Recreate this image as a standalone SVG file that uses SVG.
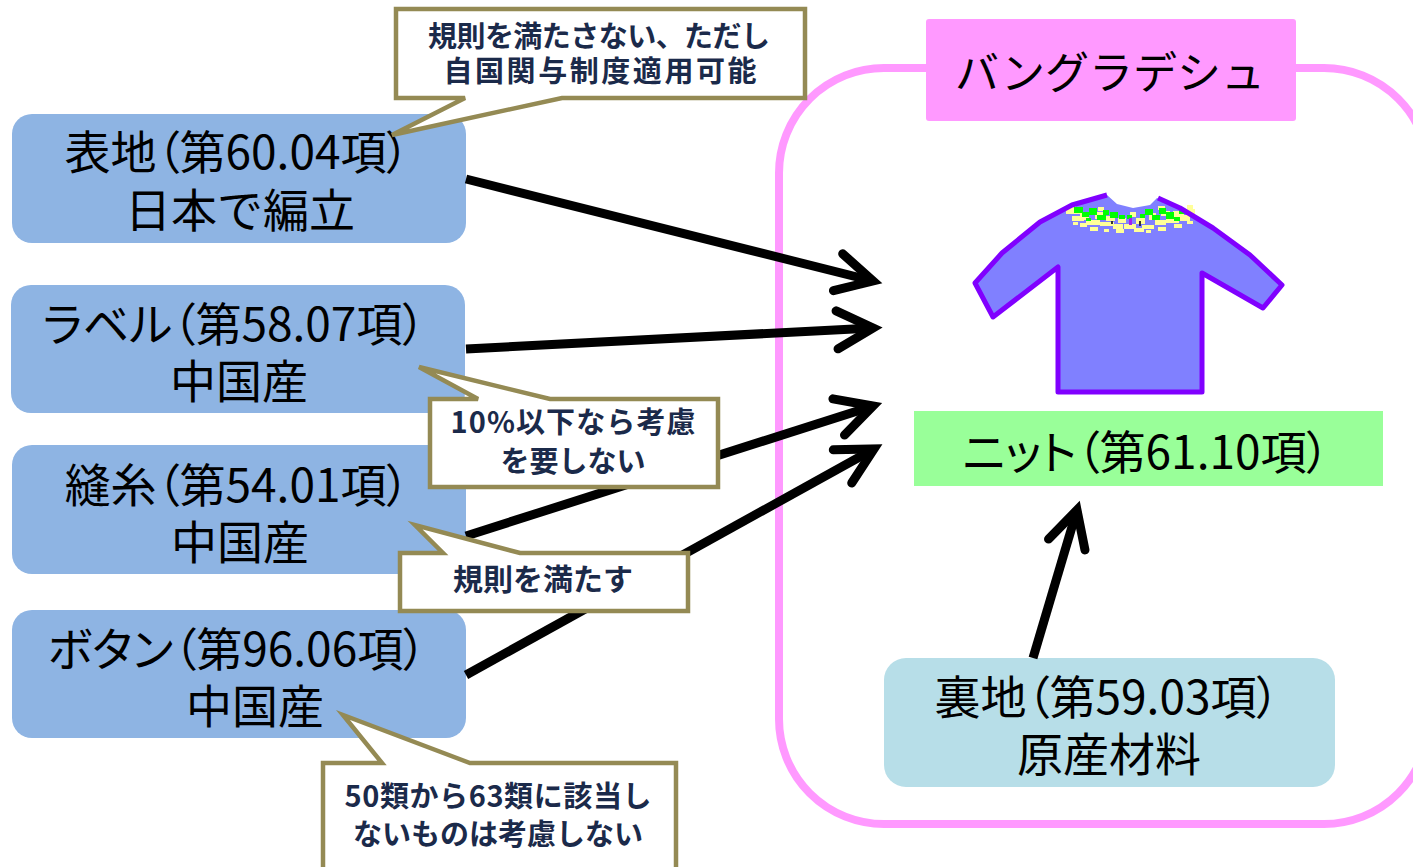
<svg xmlns="http://www.w3.org/2000/svg" width="1413" height="867" viewBox="0 0 1413 867">
  <defs>
    <style>
      .lbl { font-family: "Noto Sans CJK JP", "Noto Sans", sans-serif; font-size: 46px; fill: #000; }
      .mid { text-anchor: middle; }
      .p { font-feature-settings: "palt" 1; }
      .note { font-family: "Noto Sans CJK JP", "Noto Sans", sans-serif; font-size: 29px; font-weight: 700; fill: #1B2A4A; text-anchor: middle; }
      .src { fill: #8EB4E3; }
      .bubble { fill: #FFFFFF; stroke: #948A54; stroke-width: 4.5; stroke-linejoin: miter; }
      .flow { fill: none; stroke: #000; stroke-width: 9; marker-end: url(#chev); }
    </style>
    <marker id="chev" markerUnits="userSpaceOnUse" markerWidth="100" markerHeight="100" viewBox="-50 -50 100 100" refX="0" refY="0" orient="auto" overflow="visible">
      <path d="M-36,-19 L0,0 L-36,19" fill="none" stroke="#000" stroke-width="9" stroke-linecap="round" stroke-linejoin="miter"/>
    </marker>
  </defs>

  <rect width="1413" height="867" fill="#FFFFFF"/>

  <!-- country frame -->
  <g id="bangladesh">
    <rect x="779" y="68" width="650" height="756" rx="105" ry="105" fill="none" stroke="#FF99FF" stroke-width="8"/>
    <rect x="926" y="19" width="370" height="102" rx="3" fill="#FF99FF"/>
    <text class="lbl mid" x="1110" y="89" style="font-size:44px">バングラデシュ</text>
  </g>

  <!-- source materials -->
  <g id="node-outer-fabric">
    <rect class="src" x="12" y="114" width="454" height="129" rx="20"/>
    <text class="lbl mid p" x="237" y="169">表地（第60.04項）</text>
    <text class="lbl mid" x="240" y="227">日本で編立</text>
  </g>
  <g id="node-label">
    <rect class="src" x="11" y="285" width="454" height="128" rx="20"/>
    <text class="lbl mid p" x="234" y="341">ラベル（第58.07項）</text>
    <text class="lbl mid" x="239" y="398">中国産</text>
  </g>
  <g id="node-thread">
    <rect class="src" x="12" y="445" width="454" height="129" rx="20"/>
    <text class="lbl mid p" x="237" y="502">縫糸（第54.01項）</text>
    <text class="lbl mid" x="240" y="559">中国産</text>
  </g>
  <g id="node-button">
    <rect class="src" x="12" y="610" width="454" height="128" rx="20"/>
    <text class="lbl mid p" x="237" y="666">ボタン（第96.06項）</text>
    <text class="lbl mid" x="255" y="723">中国産</text>
  </g>

  <!-- knitted garment -->
  <g id="shirt">
    <polygon points="1107,195 1072,205 1040,222 1002,253 975,283 993,317 1058,267 1058,392 1202,392 1202,273 1263,308 1282,285 1250,255 1213,228 1180,208 1157,198 1150,205 1133,208 1117,204" fill="#8080FF"/>
    <g fill="#FFFF99">
      <rect x="1066" y="208" width="14" height="6"/><rect x="1072" y="216" width="12" height="5"/>
      <rect x="1080" y="212" width="9" height="8"/><rect x="1086" y="220" width="14" height="5"/>
      <rect x="1095" y="212" width="8" height="7"/><rect x="1100" y="222" width="14" height="4"/>
      <rect x="1106" y="216" width="9" height="5"/><rect x="1113" y="224" width="10" height="5"/>
      <rect x="1118" y="218" width="8" height="5"/><rect x="1124" y="224" width="12" height="5"/>
      <rect x="1130" y="212" width="6" height="5"/><rect x="1136" y="218" width="9" height="6"/>
      <rect x="1142" y="225" width="12" height="4"/><rect x="1149" y="213" width="7" height="7"/>
      <rect x="1155" y="220" width="11" height="5"/><rect x="1161" y="211" width="9" height="5"/>
      <rect x="1166" y="217" width="13" height="6"/><rect x="1173" y="211" width="11" height="6"/>
      <rect x="1180" y="215" width="10" height="6"/><rect x="1186" y="209" width="9" height="5"/>
      <rect x="1090" y="227" width="8" height="4"/><rect x="1116" y="229" width="8" height="4"/>
      <rect x="1134" y="228" width="10" height="4"/><rect x="1158" y="227" width="8" height="4"/>
      <rect x="1174" y="224" width="8" height="4"/><rect x="1098" y="207" width="6" height="4"/>
      <rect x="1158" y="206" width="7" height="4"/><rect x="1068" y="204" width="8" height="4"/>
      <rect x="1187" y="205" width="6" height="4"/><rect x="1080" y="223" width="7" height="4"/>
      <rect x="1104" y="229" width="5" height="3"/><rect x="1146" y="230" width="5" height="3"/>
      <rect x="1187" y="221" width="6" height="3"/><rect x="1073" y="222" width="5" height="3"/>
    </g>
    <g fill="#00FF00">
      <rect x="1074" y="207" width="9" height="6"/><rect x="1082" y="212" width="7" height="5"/>
      <rect x="1089" y="208" width="8" height="7"/><rect x="1097" y="215" width="9" height="5"/>
      <rect x="1103" y="210" width="6" height="5"/><rect x="1110" y="212" width="8" height="6"/>
      <rect x="1119" y="215" width="6" height="4"/><rect x="1145" y="209" width="8" height="6"/>
      <rect x="1152" y="215" width="8" height="5"/><rect x="1159" y="208" width="7" height="6"/>
      <rect x="1166" y="212" width="8" height="7"/><rect x="1174" y="217" width="6" height="4"/>
      <rect x="1179" y="209" width="6" height="5"/><rect x="1127" y="215" width="5" height="4"/>
      <rect x="1086" y="218" width="5" height="3"/><rect x="1140" y="214" width="5" height="4"/>
    </g>
    <rect x="1129" y="218" width="3" height="7" fill="#A020F0"/>
    <rect x="1111" y="221" width="2" height="3" fill="#333"/>
    <rect x="1139" y="221" width="2" height="5" fill="#333"/>
    <polyline points="1107,195 1072,205 1040,222 1002,253 975,283 993,317 1058,267 1058,392 1202,392 1202,273 1263,308 1282,285 1250,255 1213,228 1180,208 1158,198" fill="none" stroke="#8000FF" stroke-width="5" stroke-linejoin="round"/>
  </g>

  <g id="node-knit">
    <rect x="914" y="411" width="469" height="75" fill="#99FF99"/>
    <text class="lbl mid p" x="1146" y="469">ニット（第61.10項）</text>
  </g>

  <g id="node-lining">
    <rect x="884" y="658" width="451" height="129" rx="22" fill="#B7DEE8"/>
    <text class="lbl mid p" x="1107" y="714">裏地（第59.03項）</text>
    <text class="lbl mid" x="1109" y="771">原産材料</text>
  </g>

  <!-- flows into the garment -->
  <g id="connectors">
    <line class="flow" x1="466" y1="179" x2="873" y2="281"/>
    <line class="flow" x1="466" y1="349" x2="873" y2="328"/>
    <line class="flow" x1="466" y1="536" x2="873" y2="406"/>
    <line class="flow" x1="466" y1="675" x2="874" y2="449"/>
    <line class="flow" x1="1033" y1="658" x2="1077" y2="510"/>
  </g>

  <!-- rule notes -->
  <g id="note-outer-fabric">
    <path class="bubble" d="M396,9 H805 V98 H562 L392,135 L465,98 H396 Z"/>
    <text class="note" x="599" y="47" textLength="342">規則を満たさない、ただし</text>
    <text class="note" x="600" y="82" textLength="313">自国関与制度適用可能</text>
  </g>
  <g id="note-label">
    <path class="bubble" d="M430,399 H478 L419,367 L550,399 H718 V487 H430 Z"/>
    <text class="note" x="573" y="433" textLength="245">10%以下なら考慮</text>
    <text class="note" x="573" y="472">を要しない</text>
  </g>
  <g id="note-thread">
    <path class="bubble" d="M400,553 H443 L415,525 L520,553 H688 V611 H400 Z"/>
    <text class="note" x="543" y="590" style="font-size:30px">規則を満たす</text>
  </g>
  <g id="note-button">
    <path class="bubble" d="M323,763 H382 L343,715 L470,763 H676 V880 H323 Z"/>
    <text class="note" x="498" y="807" textLength="307">50類から63類に該当し</text>
    <text class="note" x="498" y="845">ないものは考慮しない</text>
  </g>
</svg>
